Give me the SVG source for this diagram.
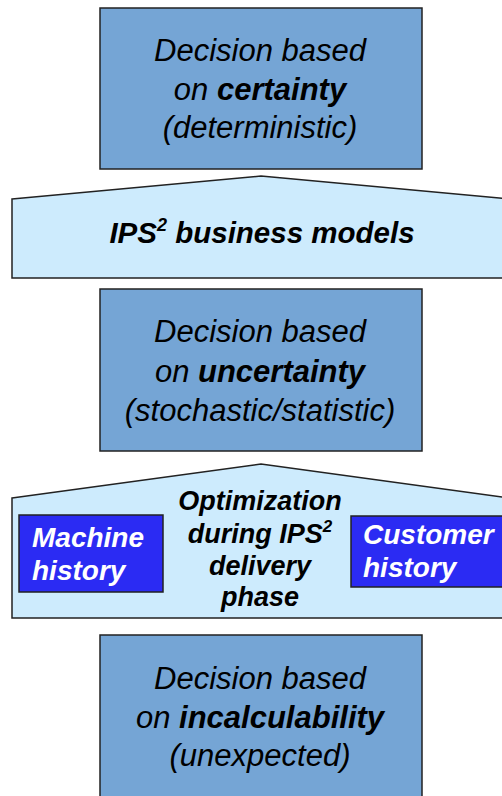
<svg xmlns="http://www.w3.org/2000/svg" width="502" height="796" viewBox="0 0 502 796">
  <style>
    .box { fill: #75a5d5; stroke: #222; stroke-width: 1.5; }
    .roof { fill: #cdebfd; stroke: #222; stroke-width: 1.5; }
    .tag { fill: #2b2bf3; stroke: #222; stroke-width: 1.5; }
    .t { font-family: "Liberation Sans", Arial, sans-serif; font-style: italic; font-size: 31px; fill: #000; text-anchor: middle; }
    .b { font-weight: bold; }
    .h { font-family: "Liberation Sans", Arial, sans-serif; font-style: italic; font-weight: bold; font-size: 27px; fill: #000; text-anchor: middle; }
    .w { font-family: "Liberation Sans", Arial, sans-serif; font-style: italic; font-weight: bold; font-size: 28px; fill: #fff; }
    .sup { font-size: 17px; }
  </style>
  <rect width="502" height="796" fill="#fff"/>

  <g id="certainty">
    <rect class="box" x="100" y="8" width="322" height="161"/>
    <text class="t" x="260" y="61">Decision based</text>
    <text class="t" x="260" y="100">on <tspan class="b">certainty</tspan></text>
    <text class="t" x="260" y="138">(deterministic)</text>
  </g>

  <g id="business-models">
    <polygon class="roof" points="12,199 261,176 510,199 510,278 12,278"/>
    <text class="h" x="262" y="243" style="font-size:29.5px">IPS<tspan class="sup" style="font-size:18px" dy="-12">2</tspan><tspan dy="12"> business models</tspan></text>
  </g>

  <g id="uncertainty">
    <rect class="box" x="100" y="289" width="322" height="162"/>
    <text class="t" x="260" y="342">Decision based</text>
    <text class="t" x="260" y="382">on <tspan class="b">uncertainty</tspan></text>
    <text class="t" x="260" y="421">(stochastic/statistic)</text>
  </g>

  <g id="optimization">
    <polygon class="roof" points="12,498 261,464 510,498 510,618 12,618"/>
    <text class="h" x="260" y="510">Optimization</text>
    <text class="h" x="260" y="543">during IPS<tspan class="sup" dy="-11">2</tspan></text>
    <text class="h" x="260" y="575">delivery</text>
    <text class="h" x="260" y="606">phase</text>
  </g>

  <g id="machine-history">
    <rect class="tag" x="19" y="515" width="144" height="77"/>
    <text class="w" x="32" y="547">Machine</text>
    <text class="w" x="32" y="580">history</text>
  </g>

  <g id="customer-history">
    <rect class="tag" x="351" y="516" width="160" height="71"/>
    <text class="w" x="363" y="544">Customer</text>
    <text class="w" x="363" y="577">history</text>
  </g>

  <g id="incalculability">
    <rect class="box" x="100" y="635" width="322" height="170"/>
    <text class="t" x="260" y="689">Decision based</text>
    <text class="t" x="260" y="728">on <tspan class="b">incalculability</tspan></text>
    <text class="t" x="260" y="766">(unexpected)</text>
  </g>

  <g id="connectors"/>
</svg>
